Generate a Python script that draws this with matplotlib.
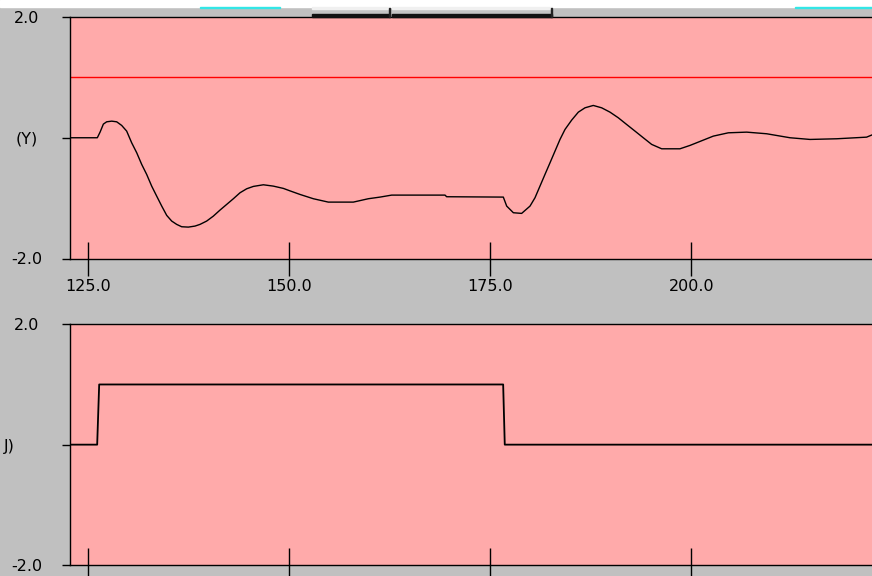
import matplotlib.pyplot as plt
from matplotlib.patches import Rectangle
import numpy as np

# response curve (top panel)
t_y = [122.7, 126.12, 126.46, 126.87, 127.28, 127.91, 128.53, 129.15, 129.77,
       130.39, 131.02, 131.64, 132.26, 132.88, 133.50, 134.13, 134.75, 135.37,
       135.99, 136.61, 137.44, 138.27, 138.89, 139.72, 140.55, 141.38, 142.21,
       143.04, 143.87, 144.70, 145.53, 146.77, 148.01, 149.26, 150.09, 151.33,
       152.99, 154.85, 157.96, 159.83, 161.28, 162.73, 169.37, 169.57, 176.62,
       177.04, 177.87, 178.90, 179.94, 180.56, 181.18, 181.80, 182.43, 183.05,
       183.67, 184.29, 185.12, 185.95, 186.78, 187.81, 188.85, 189.89, 190.92,
       191.96, 193.00, 194.03, 195.07, 196.32, 198.59, 199.84, 200.67, 202.74,
       204.61, 206.89, 209.38, 212.28, 214.77, 218.08, 221.81, 222.43]
y_vals = [0.0, 0.0, 0.093, 0.226, 0.264, 0.275, 0.264, 0.204, 0.110,
          -0.083, -0.249, -0.442, -0.608, -0.801, -0.966, -1.132, -1.286, -1.380,
          -1.435, -1.474, -1.480, -1.463, -1.435, -1.380, -1.298, -1.198, -1.104,
          -1.010, -0.911, -0.845, -0.806, -0.779, -0.801, -0.839, -0.880, -0.939,
          -1.010, -1.066, -1.066, -1.010, -0.983, -0.950, -0.950, -0.977, -0.983,
          -1.132, -1.242, -1.253, -1.132, -0.994, -0.801, -0.608, -0.414, -0.221,
          -0.028, 0.137, 0.292, 0.424, 0.496, 0.535, 0.496, 0.424, 0.331,
          0.220, 0.110, 0.0, -0.110, -0.183, -0.183, -0.127, -0.083, 0.027,
          0.082, 0.093, 0.066, 0.0, -0.028, -0.017, 0.010, 0.044]
setpoint = 1.0

# input step (bottom panel)
t_u = [122.7, 126.1, 126.35, 176.6, 176.8, 222.5]
u_vals = [0.0, 0.0, 1.0, 1.0, 0.0, 0.0]

xticks = [125.0, 150.0, 175.0, 200.0]
xlabels = ["125.0", "150.0", "175.0", "200.0"]
yticks = [-2.0, 0.0, 2.0]
ylabels_top = ["-2.0", "(Y)", "2.0"]
ylabels_bot = ["-2.0", "J)", "2.0"]

GREY = "#c0c0c0"
PINK = "#ffaaaa"
W, H = 872, 576

fig = plt.figure(figsize=(8.72, 5.76), dpi=100, facecolor=GREY)

# window chrome along the top
fig.patches.append(Rectangle((0, 1 - 7 / H), 1, 7 / H, transform=fig.transFigure,
                             color="white", zorder=0))
for x0, x1 in [(200, 280), (795, 872)]:
    fig.patches.append(Rectangle((x0 / W, 1 - 8 / H), (x1 - x0) / W, 1.5 / H,
                                 transform=fig.transFigure, color="#33e6e6"))
# two flat buttons: light top edge, dark bottom and right edges
for x0, x1 in [(312, 390), (392, 552)]:
    fig.patches.append(Rectangle((x0 / W, 1 - 16 / H), (x1 - x0) / W, 9 / H,
                                 transform=fig.transFigure, facecolor="#c4c4c4",
                                 edgecolor="none"))
    fig.patches.append(Rectangle((x0 / W, 1 - 8.5 / H), (x1 - x0) / W, 1.2 / H,
                                 transform=fig.transFigure, color="#f0f0f0"))
    fig.patches.append(Rectangle((x0 / W, 1 - 16.5 / H), (x1 - x0) / W, 2.2 / H,
                                 transform=fig.transFigure, color="#111111"))
    fig.patches.append(Rectangle(((x1 - 1.5) / W, 1 - 16.5 / H), 1.5 / W, 9 / H,
                                 transform=fig.transFigure, color="#222222"))

xlim = (122.72, 222.48)


def setup(ax, ylabels, show_xlabels):
    ax.set_facecolor(PINK)
    ax.set_xlim(*xlim)
    ax.set_ylim(-2, 2)
    ax.spines["right"].set_visible(False)
    for s in ["left", "top", "bottom"]:
        ax.spines[s].set_linewidth(1.0)
    ax.set_xticks(xticks)
    ax.set_xticklabels(xlabels if show_xlabels else [])
    ax.set_yticks(yticks)
    ax.set_yticklabels(ylabels)
    ax.tick_params(axis="x", direction="inout", length=24, width=1.0, pad=3,
                   labelsize=11.5, labelbottom=show_xlabels)
    ax.tick_params(axis="y", direction="out", length=6, width=1.0, pad=25,
                   labelsize=11.5)
    plt.setp(ax.get_yticklabels(), ha="center")


ax1 = fig.add_axes([70 / W, 1 - 258.5 / H, 802 / W, 241.5 / H])
setup(ax1, ylabels_top, True)
ax1.axhline(setpoint, color="red", lw=1.0)
ax1.plot(t_y, y_vals, color="black", lw=1.0)

ax2 = fig.add_axes([70 / W, 1 - 565 / H, 802 / W, 240.7 / H])
setup(ax2, ylabels_bot, False)
ax2.yaxis.get_major_ticks()[1].set_pad(38)
ax2.plot(t_u, u_vals, color="black", lw=1.3)

fig.savefig("out.png", dpi=100, facecolor=GREY)
